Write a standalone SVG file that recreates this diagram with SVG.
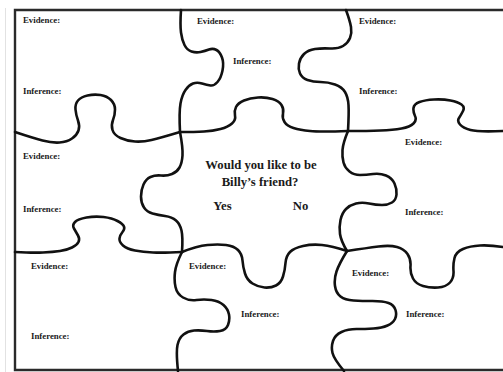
<svg xmlns="http://www.w3.org/2000/svg" width="503" height="372" viewBox="0 0 503 372">
<style>
.lbl{font-family:"Liberation Serif","Times New Roman",serif;font-weight:bold;font-size:8.8px;fill:#1a1a1a}
.q{font-family:"Liberation Serif","Times New Roman",serif;font-weight:bold;font-size:12.7px;fill:#1a1a1a;text-anchor:middle}
.cut{fill:none;stroke:#111;stroke-width:2.6;stroke-linecap:round;stroke-linejoin:round}
.frame{fill:none;stroke:#2a2a2a;stroke-width:2.4}
</style>
<rect width="503" height="372" fill="#fff"/>
<line x1="5.5" y1="8" x2="5.5" y2="372" stroke="#e2e2e2" stroke-width="1"/>
<g id="frame">
<path class="frame" d="M503,10 H15 V370 H503"/>
</g>
<g id="connectors">
<path class="cut" d="M181,10 Q180,25 181,32.5 T184.5,45 T191.5,51.5 T200.5,52 T209,49.5 T216.5,50 T222,57.5 T222.5,70.5 T217.5,82 T210.5,85.5 T202,83.5 T193,83.5 T185.5,90 T180.5,103.5 T180,132"/>
<path class="cut" d="M180,132 Q183,148 182.5,155.5 T179.5,167.5 T172,174 T161,175.5 T150.5,177 T143.5,184.5 T141,196.5 T144,207.5 T152.5,213.5 T165,216 T176,220.5 T181.5,230.5 T182,252"/>
<path class="cut" d="M182,252 Q176,264 175,272 T175.5,287 T183,297.5 T196.5,300 T211.5,300 T223.5,305 T229,314.5 T228,325 T220,331 T207,331 T194,330.5 T183.5,334.5 T177.5,345 T178,371"/>
<path class="cut" d="M346,10 Q350,21 351,27 T350,38 T343,46 T330,48.5 T315,49 T304,54 T299,63.5 T300,73.5 T307.5,80 T320.5,82 T335,84.5 T345,92 T348.5,105 T348,131"/>
<path class="cut" d="M348,131 Q343,143 342.5,150 T343.5,162.5 T349.5,171.5 T360,175 T373,174 T386,175.5 T394.5,183.5 T396.5,194.5 T392,202.5 T382,205 T369,203.5 T356,203.5 T346,209 T340.5,220 T340,234 T347,251"/>
<path class="cut" d="M347,251 Q339,264 336.5,271.5 T335,286 T340.5,296.5 T353.5,300.5 T372.5,301 T388.5,303 T395.5,310 T395,319 T387.5,325.5 T373.5,328.5 T356.5,329 T341.5,332 T333,341 T332.5,353 T344,371"/>
<path class="cut" d="M15,132 Q33,138 42.5,140.5 T59.5,142.5 T72,138.5 T78.5,130.5 T78,120.5 T75.5,109.5 T78,100.5 T87.5,95.5 T100.5,95 T111,100 T115,109.5 T113,120 T112.5,130 T120.5,138 T135,141.5 T151.5,140 T180,132"/>
<path class="cut" d="M180,132 Q195,132 204,131.5 T220.5,129 T232,123.5 T235,115.5 T236,107 T244,100.5 T258,97.5 T272.5,99 T281.5,105 T283,113.5 T284.5,122 T293.5,128 T310,131 T348,131"/>
<path class="cut" d="M348,131 Q368,131 380.5,130.5 T401.5,128.5 T413.5,123.5 T415,116 T413.5,108 T419.5,102 T434,99.5 T450.5,100.5 T461.5,104.5 T463,111 T459,118 T460,124.5 T470.5,130 T503,131"/>
<path class="cut" d="M15,252 Q33,253 43,252.5 T60,251 T72,247.5 T78.5,242 T78,235.5 T74,228.5 T75,222 T86.5,217.5 T103.5,217 T117.5,221 T124,226.5 T122.5,232 T119.5,238.5 T123,245.5 T135,250.5 T153,252.5 T182,252"/>
<path class="cut" d="M182,252 Q197,246 207.5,245 T226,245 T238,250 T242.5,260.5 T245,273.5 T252.5,283.5 T264.5,287.5 T276,285.5 T283,276.5 T285.5,263 T290,252 T303,246 T322,245 T347,251"/>
<path class="cut" d="M347,251 Q367,248 378.5,246.5 T397,247 T407.5,254 T410.5,266 T413,278.5 T423,286 T438,287.5 T450,282.5 T453.5,271 T454.5,258 T463,249 T480,245.5 T503,247"/>
</g>
<g id="piece-top-left">
<text class="lbl" x="23" y="23">Evidence:</text>
<text class="lbl" x="23" y="94">Inference:</text>
</g>
<g id="piece-top-middle">
<text class="lbl" x="197" y="24">Evidence:</text>
<text class="lbl" x="233" y="64">Inference:</text>
</g>
<g id="piece-top-right">
<text class="lbl" x="359" y="24">Evidence:</text>
<text class="lbl" x="359" y="94">Inference:</text>
</g>
<g id="piece-middle-left">
<text class="lbl" x="23" y="159">Evidence:</text>
<text class="lbl" x="23" y="212">Inference:</text>
</g>
<g id="piece-center">
<text class="q" x="261" y="169">Would you like to be</text>
<text class="q" x="260" y="186">Billy’s friend?</text>
<text class="q" x="222.5" y="209.5">Yes</text>
<text class="q" x="300.5" y="209.5">No</text>
</g>
<g id="piece-middle-right">
<text class="lbl" x="405" y="145">Evidence:</text>
<text class="lbl" x="405" y="215">Inference:</text>
</g>
<g id="piece-bottom-left">
<text class="lbl" x="31" y="268.5">Evidence:</text>
<text class="lbl" x="31" y="339">Inference:</text>
</g>
<g id="piece-bottom-middle">
<text class="lbl" x="189" y="268.5">Evidence:</text>
<text class="lbl" x="241" y="317">Inference:</text>
</g>
<g id="piece-bottom-right">
<text class="lbl" x="352" y="276">Evidence:</text>
<text class="lbl" x="406" y="317">Inference:</text>
</g>
</svg>
